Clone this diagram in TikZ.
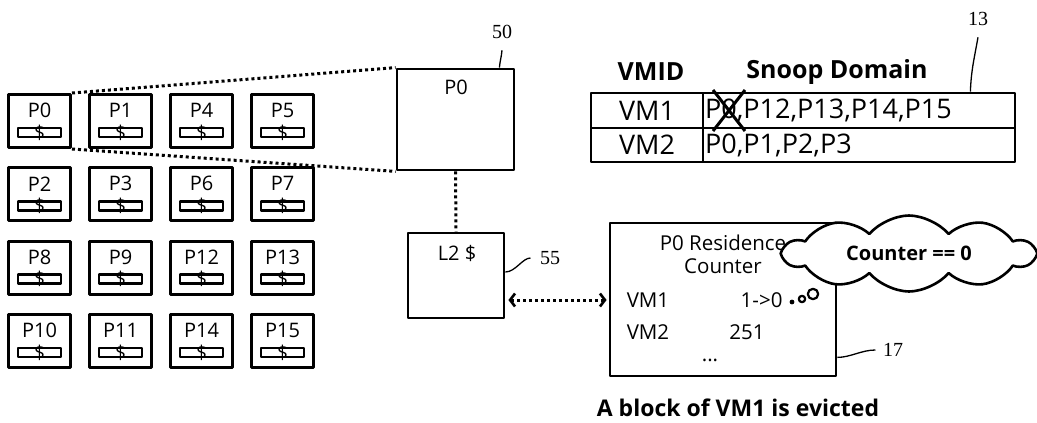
\documentclass[tikz,border=0pt]{standalone}
\usepackage{fontspec}
\setmainfont{Open Sans}
\newfontfamily\numfont{Liberation Serif}
\usetikzlibrary{shapes.symbols,arrows.meta}
\newcommand\gridfont{\fontsize{20}{22}\selectfont}
\newcommand\tabfont{\fontsize{27}{29}\selectfont}
\newcommand\hdrfont{\fontsize{25}{27}\selectfont\bfseries}
\newcommand\cntfont{\fontsize{20.5}{22}\selectfont}
\newcommand\cldfont{\fontsize{20}{22}\selectfont\bfseries}
\newcommand\capfont{\fontsize{23}{25}\selectfont\bfseries}
\tikzset{
  pbox/.style={draw,line width=3pt,minimum width=62,minimum height=53,inner sep=0pt},
  cbar/.style={draw,line width=2.6pt,minimum width=43,minimum height=9,inner sep=0pt},
  box/.style={draw,line width=2.8pt,inner sep=0pt},
  dots/.style={line width=3pt,dash pattern=on 3pt off 3pt},
  lead/.style={line width=1.3pt},
  num/.style={font=\numfont\fontsize{20}{22}\selectfont},
  barb/.tip={Straight Barb[length=5pt,width=13pt,line width=2.6pt]},
}
\begin{document}
\begin{tikzpicture}[x=1pt,y=-1pt,line join=round]
	\useasboundingbox (0,0) rectangle (1037,423);
	\foreach \p/\cx/\ry in {0/0/0,1/1/0,4/2/0,5/3/0,2/0/1,3/1/1,6/2/1,7/3/1,8/0/2,9/1/2,12/2/2,13/3/2,10/0/3,11/1/3,14/2/3,15/3/3}{
		\node[pbox] (p\p) at (39.5+81*\cx,121+73.3*\ry) {};
		\node[cbar] (c\p) at (39.5+81*\cx,132.5+73.3*\ry) {};
		\node[font=\gridfont,inner sep=0pt] (t\p) at (39.5+81*\cx,110.5+73.3*\ry) {P\p};
		\node[font=\fontsize{19}{20}\selectfont,inner sep=0pt] (d\p) at (39.5+81*\cx,132.5+73.3*\ry) {\$};
	}
	\node[box,minimum width=117,minimum height=101] (l1) at (455.5,119.5) {};
	\node[font=\gridfont] (l1t) at (456,87) {P0};
	\draw[dots] (p0.north east) -- (l1.north west) (p0.south east) -- (l1.south west);
	\node[box,minimum width=96,minimum height=85] (l2) at (456,275.5) {};
	\node[font=\gridfont] (l2t) at (457,253) {L2 \$};
	\draw[dots] (l1.south) -- (l2.north);
	\node[box,minimum width=226,minimum height=153] (rc) at (723,299.5) {};
	\path[font=\cntfont]
	(723,243) node (rc1) {P0 Residence}
	(723,266) node (rc2) {Counter}
	(648,300) node (vm1) {VM1}
	(786,300) node[anchor=east] (ct1) {1->0}
	(648,332) node (vm2) {VM2}
	(747,332) node (ct2) {251}
	(710,360) node (dd) {...}
	;
	\coordinate (arr) at (0,300);
	\draw[dots,barb-barb,shorten <=3pt,shorten >=2pt] (l2.east |- arr) -- (rc.west |- arr);
	\node[cloud,draw,fill=white,line width=2.6pt,cloud puffs=10,cloud puff arc=100,cloud ignores aspect,minimum width=250,minimum height=76,inner sep=0pt,font=\cldfont] (cl) at (909,253.5) {Counter == 0};
	\fill (792,302) circle (2.4);
	\draw[line width=2.2pt] (802,299) circle (3.2) (813,294) circle (5.2);
	\node[box,minimum width=112,minimum height=35,font=\tabfont] (id1) at (647,110.5) {VM1};
	\node[box,minimum width=312,minimum height=35] (dom1) at (859,110.5) {};
	\node[box,minimum width=112,minimum height=34,font=\tabfont] (id2) at (647,145) {VM2};
	\node[box,minimum width=312,minimum height=34] (dom2) at (859,145) {};
	\node[anchor=west,font=\tabfont] (set1) at (dom1.west) {P0,P12,P13,P14,P15};
	\node[anchor=west,font=\tabfont] (set2) at (dom2.west) {P0,P1,P2,P3};
	\draw[line width=3pt] (713,90) -- (745,131) (745,90) -- (713,131);
	\node[font=\hdrfont] (vmid) at (651,72) {VMID};
	\node[font=\hdrfont] (snoop) at (837,72) {Snoop Domain};
	\node[num] (n50) at (502,32) {50};
	\node[num] (n13) at (978,19) {13};
	\node[num] (n55) at (550,258) {55};
	\node[num] (n17) at (893,350) {17};
	\draw[lead] ([xshift=-16pt]l1.north east) to[out=85,in=-95] ([yshift=-8pt]n50.south);
	\draw[lead] ([xshift=-46pt]dom1.north east) to[out=88,in=-100] ([yshift=-8pt]n13.south);
	\draw[lead] ([yshift=3.5pt]l2.east) .. controls +(10,0) and +(-8,0) .. ([xshift=-6pt]n55.west);
	\draw[lead] ([yshift=20pt]rc.south east) .. controls +(13,0) and +(-14,0) .. ([xshift=-4pt]n17.west);
	\node[font=\capfont] (ev) at (738,408) {A block of VM1 is evicted};
\end{tikzpicture}
\end{document}
